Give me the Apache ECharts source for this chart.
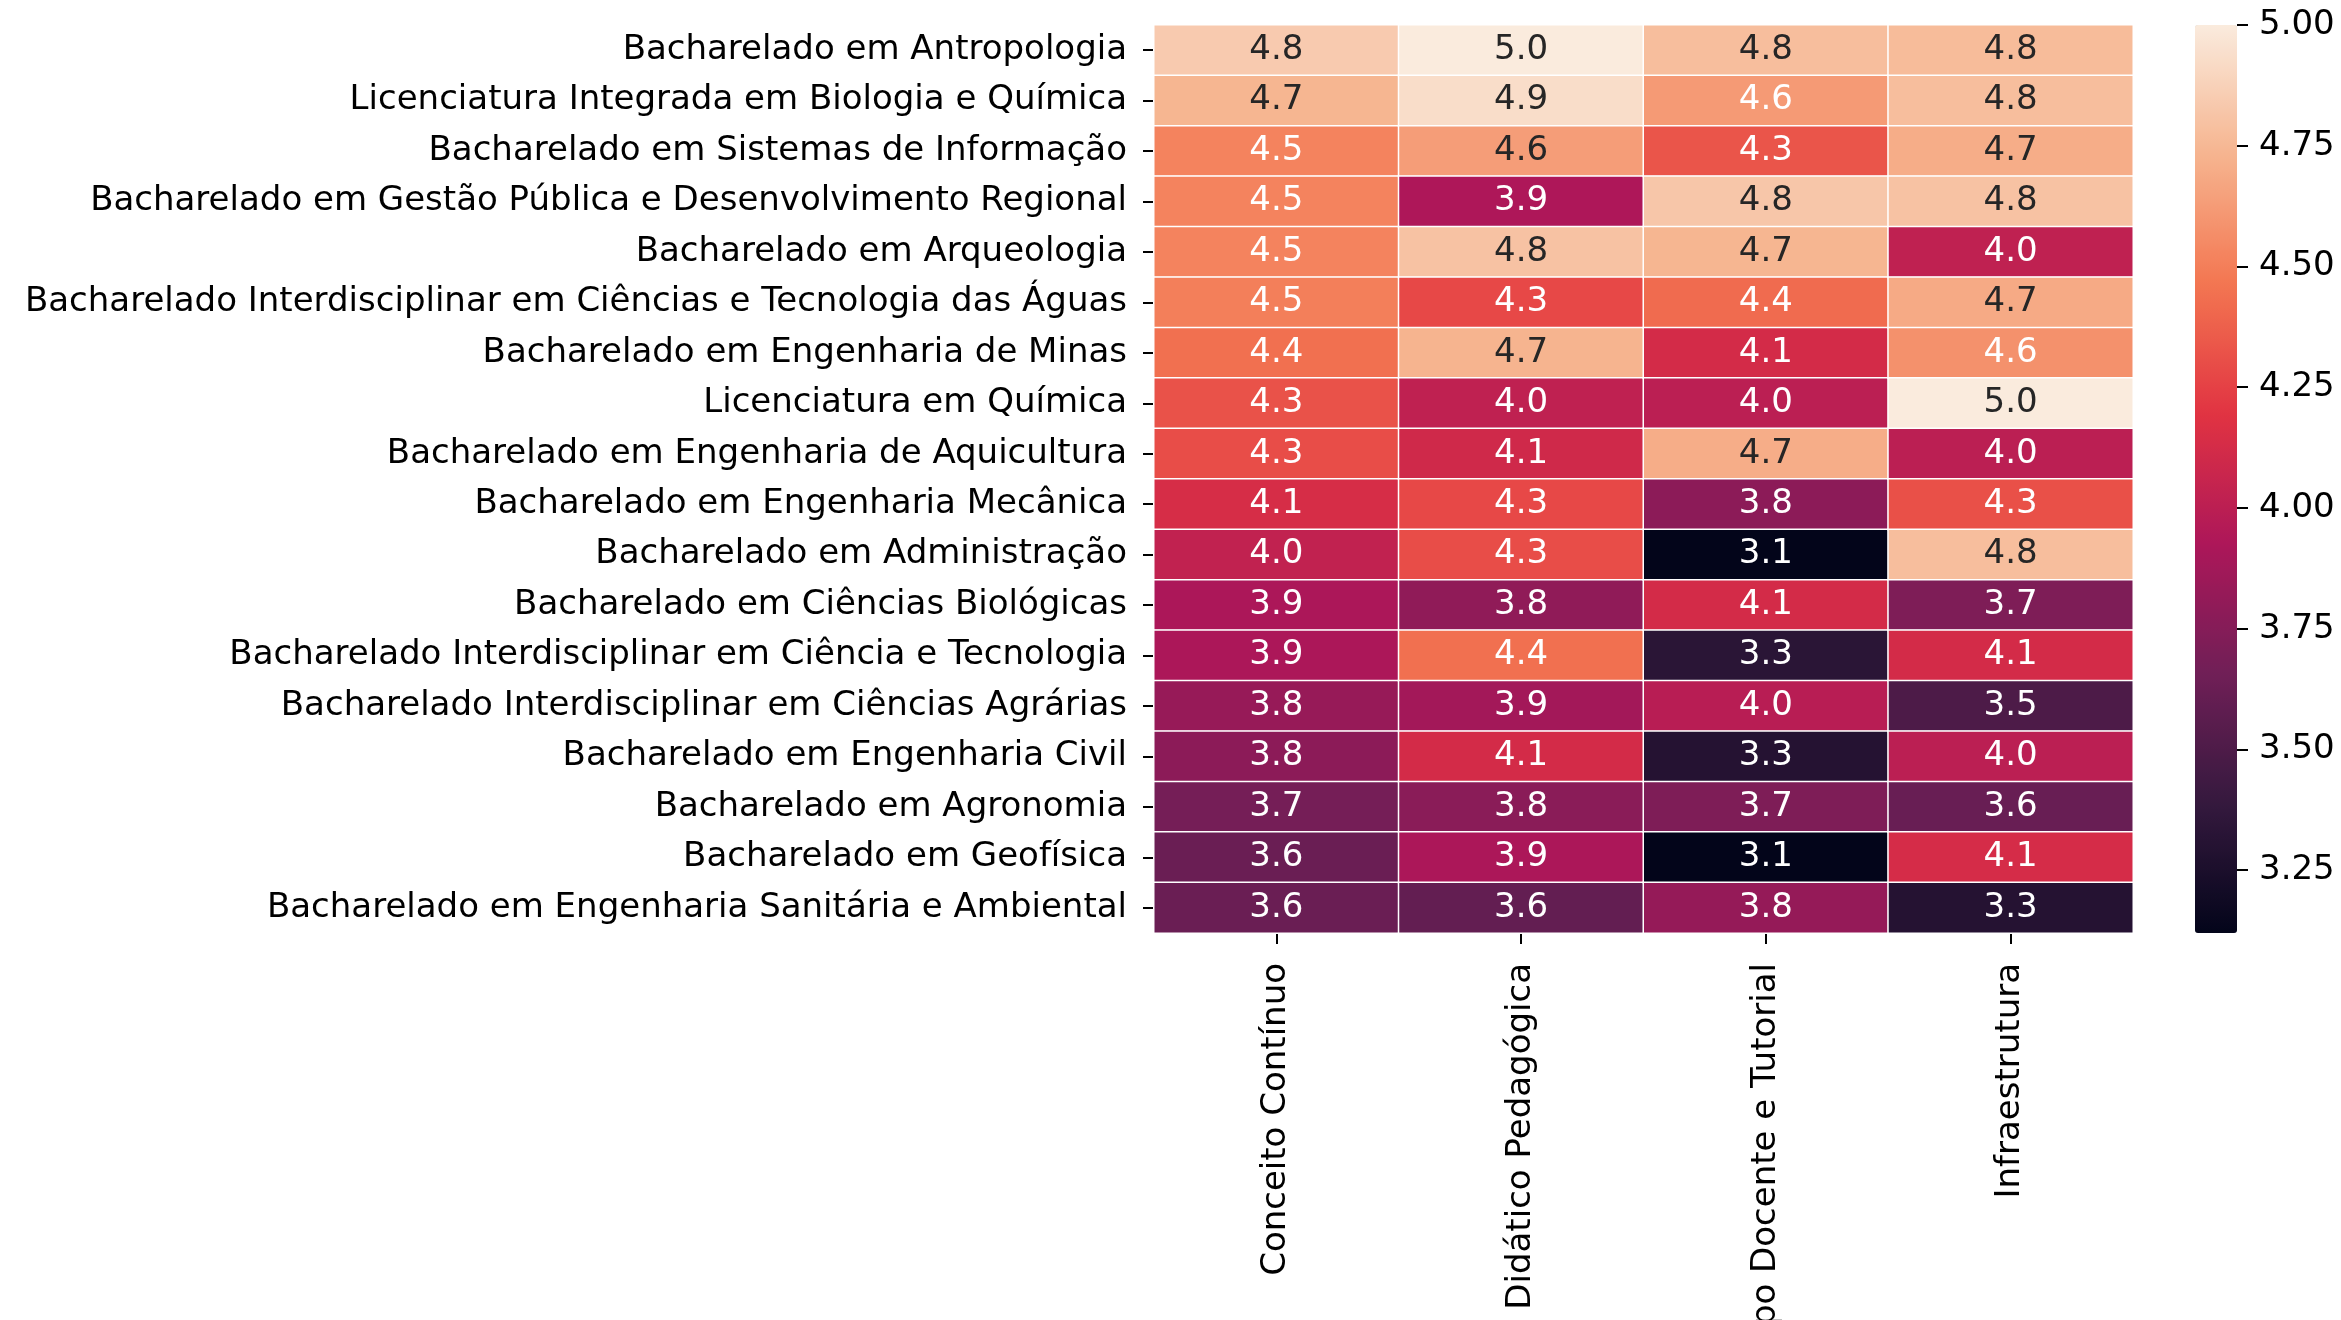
<!DOCTYPE html>
<html>
<head>
<meta charset="utf-8">
<script src="https://cdn.jsdelivr.net/npm/echarts@6/dist/echarts.min.js"></script>
<style>
  html, body { margin: 0; padding: 0; background: #fff; }
  #main { width: 2341px; height: 1320px; }
</style>
</head>
<body>
<div id="main"></div>
<script>
// cursos (linhas, de cima para baixo)
var cursos = [
	'Bacharelado em Antropologia',
	'Licenciatura Integrada em Biologia e Química',
	'Bacharelado em Sistemas de Informação',
	'Bacharelado em Gestão Pública e Desenvolvimento Regional',
	'Bacharelado em Arqueologia',
	'Bacharelado Interdisciplinar em Ciências e Tecnologia das Águas',
	'Bacharelado em Engenharia de Minas',
	'Licenciatura em Química',
	'Bacharelado em Engenharia de Aquicultura',
	'Bacharelado em Engenharia Mecânica',
	'Bacharelado em Administração',
	'Bacharelado em Ciências Biológicas',
	'Bacharelado Interdisciplinar em Ciência e Tecnologia',
	'Bacharelado Interdisciplinar em Ciências Agrárias',
	'Bacharelado em Engenharia Civil',
	'Bacharelado em Agronomia',
	'Bacharelado em Geofísica',
	'Bacharelado em Engenharia Sanitária e Ambiental'
];

// dimensões (colunas)
var dimensoes = ['Conceito Contínuo', 'Didático Pedagógica', 'Corpo Docente e Tutorial', 'Infraestrutura'];

// notas por dimensão, na ordem dos cursos
var conceitoContinuo = [4.84, 4.74, 4.52, 4.52, 4.52, 4.50, 4.44, 4.32, 4.30, 4.14, 4.03, 3.92, 3.92, 3.83, 3.78, 3.68, 3.63, 3.63];
var didaticoPedagogica = [5.00, 4.93, 4.63, 3.93, 4.80, 4.28, 4.73, 4.02, 4.10, 4.28, 4.30, 3.80, 4.44, 3.88, 4.12, 3.77, 3.92, 3.60];
var corpoDocente = [4.78, 4.62, 4.33, 4.82, 4.74, 4.42, 4.12, 4.00, 4.70, 3.78, 3.12, 4.12, 3.33, 3.98, 3.30, 3.72, 3.12, 3.82];
var infraestrutura = [4.77, 4.78, 4.70, 4.80, 4.02, 4.69, 4.58, 5.00, 4.00, 4.31, 4.78, 3.72, 4.12, 3.50, 4.00, 3.62, 4.13, 3.30];

// escala da barra de cores
var barTickMin = 3.25;
var barTickMax = 5.00;
var barTickStep = 0.25;
var vMin = 3.12;
var vMax = 5.00;

var colunas = [conceitoContinuo, didaticoPedagogica, corpoDocente, infraestrutura];
var rocket = ['#03051a', '#35193e', '#701f57', '#ad1759', '#e13342', '#f37651', '#f6b48f', '#faebdd'];

var dados = [];
for (var c = 0; c < colunas.length; c++) {
	for (var r = 0; r < cursos.length; r++) {
		var v = colunas[c][r];
		dados.push({
			value: [c, r, v],
			label: { color: v >= 4.625 ? '#262626' : '#ffffff' }
		});
	}
}

var dom = document.getElementById('main');
var myChart = echarts.init(dom, null, { renderer: 'canvas' });
var fonte = 'DejaVu Sans';

var topo = 25;
var altura = 908;
// eixo da barra de cores só cobre a faixa dos rótulos (3.25 a 5.00)
var alturaEixo = altura * (barTickMax - barTickMin) / (vMax - vMin);

var option = {
	backgroundColor: '#fff',
	animation: false,
	grid: [{
		left: 1154,
		top: topo,
		width: 979,
		height: altura,
		outerBoundsMode: 'none',
		containLabel: false
	}, {
		left: 2195,
		top: topo,
		width: 42,
		height: alturaEixo,
		outerBoundsMode: 'none',
		containLabel: false
	}],
	xAxis: [{
		type: 'category',
		gridIndex: 0,
		data: dimensoes,
		position: 'bottom',
		splitArea: { show: false },
		axisLine: { show: false },
		axisTick: { show: true, alignWithLabel: true, length: 11, lineStyle: { color: '#000', width: 2 } },
		axisLabel: { rotate: 90, margin: 30, fontFamily: fonte, fontSize: 34, color: '#000' }
	}, {
		type: 'value',
		gridIndex: 1,
		show: false
	}],
	yAxis: [{
		type: 'category',
		gridIndex: 0,
		data: cursos,
		inverse: true,
		splitArea: { show: false },
		axisLine: { show: false },
		axisTick: { show: true, alignWithLabel: true, length: 11, lineStyle: { color: '#000', width: 2 } },
		axisLabel: { margin: 27, fontFamily: fonte, fontSize: 34, color: '#000' }
	}, {
		type: 'value',
		gridIndex: 1,
		position: 'right',
		min: barTickMin,
		max: barTickMax,
		interval: barTickStep,
		splitLine: { show: false },
		axisLine: { show: false, onZero: false },
		axisTick: { show: true, length: 11, lineStyle: { color: '#000', width: 2 } },
		axisLabel: {
			margin: 22,
			fontFamily: fonte,
			fontSize: 34,
			color: '#000',
			formatter: function(v) { return v.toFixed(2); }
		}
	}],
	visualMap: {
		type: 'continuous',
		seriesIndex: 0,
		min: vMin,
		max: vMax,
		calculable: false,
		orient: 'vertical',
		left: 2195,
		top: topo,
		padding: 0,
		itemWidth: 42,
		itemHeight: altura,
		inRange: { color: rocket }
	},
	series: [{
		type: 'heatmap',
		xAxisIndex: 0,
		yAxisIndex: 0,
		data: dados,
		itemStyle: { borderColor: '#ffffff', borderWidth: 1.5 },
		label: {
			show: true,
			fontFamily: fonte,
			fontSize: 34,
			formatter: function(p) { return p.value[2].toFixed(1); }
		},
		emphasis: { disabled: true }
	}]
};

if (option && typeof option === 'object') {
	myChart.setOption(option, true);
}
</script>
</body>
</html>
